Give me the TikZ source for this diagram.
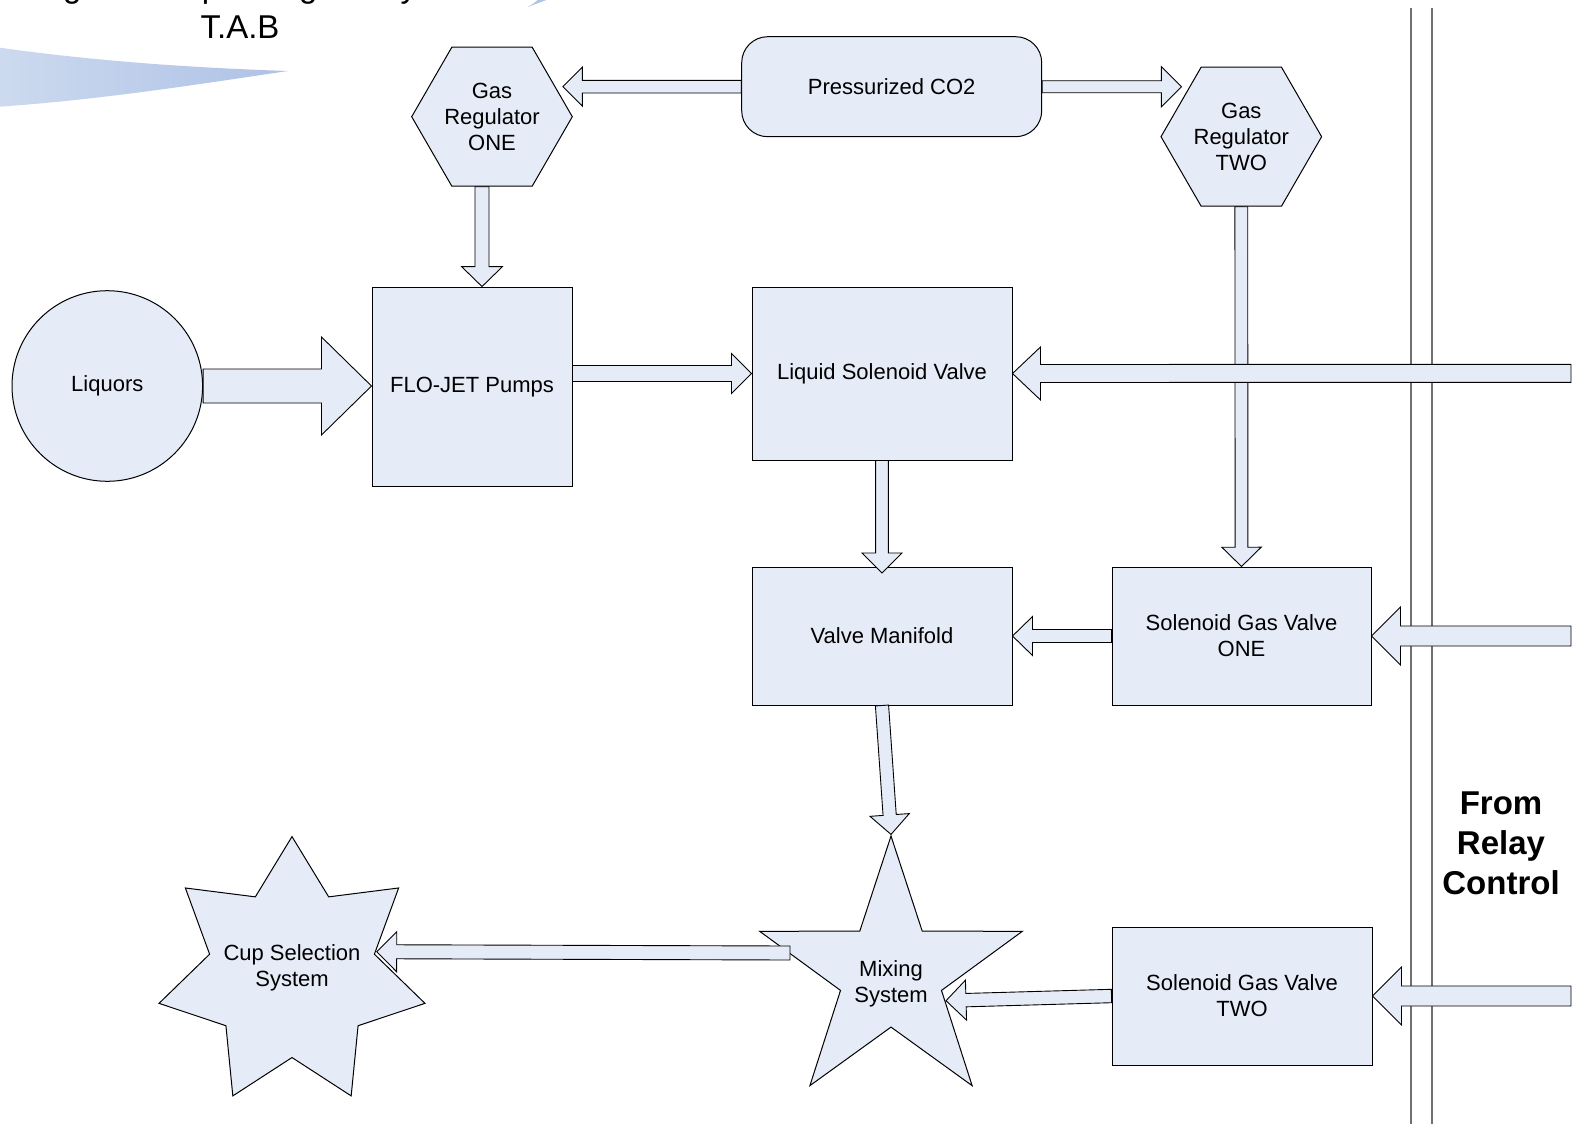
\documentclass[tikz,border=0pt]{standalone}
\usepackage{fontspec}
\setmainfont{Liberation Sans}
\usetikzlibrary{shapes.geometric,calc}
\definecolor{nfill}{HTML}{E5ECF7}
\definecolor{busgray}{HTML}{707070}
\definecolor{swL}{HTML}{CDDAEF}
\definecolor{swM}{HTML}{DCE5F3}
\definecolor{swR}{HTML}{AEC2E6}
\tikzset{
  lbl/.style={font=\fontsize{22}{26}\selectfont, align=center, text=black},
  shp/.style={draw=black, fill=nfill, line width=1pt, inner sep=0pt, lbl},
  rbox/.style={shp, rectangle},
  hexa/.style={shp, regular polygon, regular polygon sides=6, minimum size=160.6pt},
  barrowstyle/.style={draw=black, fill=nfill, line width=0.9pt, line join=miter},
  bus/.style={draw=busgray, line width=1.6pt},
  titlefont/.style={font=\fontsize{33}{40}\selectfont, inner sep=0pt},
}
% block arrow: #1 tail, #2 tip, #3 shaft half width, #4 head half width, #5 head length
\newcommand{\barrow}[5]{%
  \coordinate (bahead) at ($(#2)!#5!(#1)$);
  \filldraw[barrowstyle]
    ($(#1)!#3!90:(#2)$) -- ($(bahead)!#3!-90:(#1)$) -- ($(bahead)!#4!-90:(#1)$) -- (#2)
    -- ($(bahead)!#4!90:(#1)$) -- ($(bahead)!#3!90:(#1)$) -- ($(#1)!#3!-90:(#2)$) -- cycle;
}
\begin{document}
\begin{tikzpicture}[x=1pt,y=-1pt]
\useasboundingbox (0,0) rectangle (1573,1127);
\clip (0,0) rectangle (1573,1127);

% decorative swooshes
\shade[left color=swL, middle color=swM, right color=swR] (-5,47) .. controls (100,62) and (200,68) .. (288,71)
  .. controls (200,84) and (100,100) .. (-5,107) -- cycle;
\fill[swR] (528,7) .. controls (538,3) and (546,0) .. (556,-3) -- (541,-3) .. controls (537,1) and (533,4) .. (528,7) -- cycle;

% title (first line cut off by the page edge)
\node[titlefont, anchor=base west] (tw1) at (-3,-2) {Design};
\node[titlefont, anchor=base west] (tw2) at (154,-2) {Dispensing};
\node[titlefont, anchor=base west] (tw3) at (382,-2) {by};
\node[titlefont, anchor=base] (tab) at (240,38.5) {T.A.B};

% relay bus
\coordinate (busAt) at (1411,8);  \coordinate (busAb) at (1411,1124);
\coordinate (busBt) at (1432,8);  \coordinate (busBb) at (1432,1124);
\draw[bus] (busAt) -- (busAb);
\draw[bus] (busBt) -- (busBb);

% nodes
\node[rbox, rounded corners=26pt, minimum width=300pt, minimum height=100pt] (co2) at (891.7,86.7) {Pressurized CO2};
\node[hexa] (reg1) at (492,116.7) {Gas\\Regulator\\ONE};
\node[hexa] (reg2) at (1241.3,136.7) {Gas\\Regulator\\TWO};
\node[shp, circle, minimum size=190.6pt] (liq) at (107.3,386) {Liquors};
\node[rbox, minimum width=200pt, minimum height=199.5pt] (flo) at (472,386.8) {FLO-JET Pumps};
\node[rbox, minimum width=260pt, minimum height=173pt] (lsv) at (882,373.5) {Liquid Solenoid Valve};
\node[rbox, minimum width=260pt, minimum height=138pt] (vm) at (882,636) {Valve Manifold};
\node[rbox, minimum width=259pt, minimum height=138pt] (sg1) at (1241.5,636) {Solenoid Gas Valve\\ONE};
\node[rbox, minimum width=260pt, minimum height=138pt] (sg2) at (1242,996) {Solenoid Gas Valve\\TWO};
\node[shp, star, star points=5, star point ratio=2.6, minimum size=276pt] (mix) at (891,974) {};
\node[lbl] (mixt) at ($(mix.center)+(0,10)$) {Mixing\\System};
\node[shp, star, star points=7, star point ratio=1.614, minimum size=272.8pt] (cup) at (292,973) {};
\node[lbl] (cupt) at ($(cup.center)+(0,-5)$) {Cup Selection\\System};

\node[font=\bfseries\fontsize{33}{40}\selectfont, align=center, inner sep=0pt] (relay) at (1501,843) {From\\Relay\\Control};

% relay inputs
\coordinate (rin1) at (1571,373.3);
\coordinate (rin2) at (1571,636);
\coordinate (rin3) at (1571,996);

% arrows
\coordinate (a1t) at ($(co2.west -| reg1.east)+(-10,0)$);
\barrow{co2.west}{a1t}{6.3pt}{19.5pt}{19.5pt}
\coordinate (a2t) at ($(co2.east -| reg2.west)+(21,0)$);
\barrow{co2.east}{a2t}{6pt}{20pt}{20pt}
\coordinate (a3s) at ($(reg1.south)+(-10,0)$);
\coordinate (a3t) at (a3s |- flo.north);
\barrow{a3s}{a3t}{7pt}{20.5pt}{20pt}
\coordinate (a4t) at (liq.east -| flo.west);
\barrow{liq.east}{a4t}{17pt}{49pt}{50pt}
\coordinate (a5s) at (flo.east |- lsv.west);
\barrow{a5s}{lsv.west}{8pt}{20pt}{20pt}
\barrow{reg2.south}{sg1.north}{6.4pt}{19.7pt}{19.3pt}
\barrow{rin1}{lsv.east}{9pt}{26.5pt}{28pt}
\coordinate (a8t) at ($(vm.north)+(0,6.5)$);
\barrow{lsv.south}{a8t}{6.4pt}{20pt}{20pt}
\barrow{sg1.west}{vm.east}{6.5pt}{19.5pt}{20pt}
\barrow{rin2}{sg1.east}{10pt}{29pt}{29pt}
\barrow{rin3}{sg2.east}{10pt}{29pt}{29pt}
\coordinate (a12t) at ($(mix.center)+(55,26.7)$);
\barrow{sg2.west}{a12t}{6.7pt}{20pt}{20pt}
\barrow{vm.south}{mix.north}{6.6pt}{19.7pt}{19.5pt}
\coordinate (a14s) at ($(mix.center)+(-101,-21)$);
\coordinate (a14t) at ($(cup.center)+(84.7,-21.3)$);
\barrow{a14s}{a14t}{7pt}{20pt}{20pt}
\end{tikzpicture}
\end{document}
